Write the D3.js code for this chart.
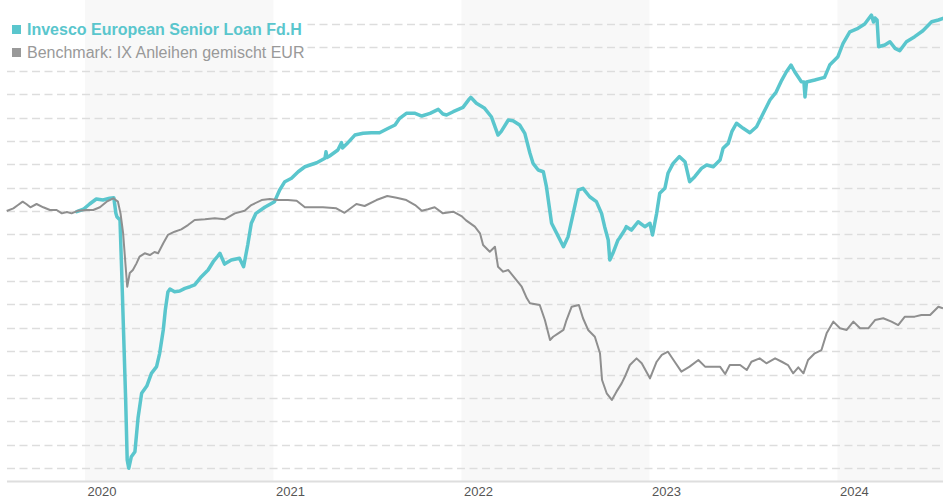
<!DOCTYPE html>
<html>
<head>
<meta charset="utf-8">
<script src="https://cdn.jsdelivr.net/npm/d3@7"></script>
<style>
  body { margin: 0; background: #fff; }
  svg { display: block; font-family: "Liberation Sans", Arial, sans-serif; }
</style>
</head>
<body>
<svg id="chart"></svg>
<script>
//Series names
const fundName = "Invesco European Senior Loan Fd.H";
const benchName = "Benchmark: IX Anleihen gemischt EUR";

//Fund (indexed, start = 100)
const fundDates = [
  "2019-12-16","2019-12-29","2020-01-10","2020-01-23","2020-02-05","2020-02-18","2020-02-26","2020-03-01","2020-03-03","2020-03-09",
  "2020-03-12","2020-03-16","2020-03-20","2020-03-23","2020-03-26","2020-03-31","2020-04-07","2020-04-13","2020-04-20","2020-04-30",
  "2020-05-09","2020-05-19","2020-05-25","2020-06-01","2020-06-05","2020-06-10","2020-06-14","2020-06-23","2020-07-03","2020-07-13",
  "2020-07-23","2020-08-01","2020-08-14","2020-08-27","2020-09-06","2020-09-15","2020-09-19","2020-09-28","2020-10-11","2020-10-27",
  "2020-11-04","2020-11-12","2020-11-19","2020-11-28","2020-12-15","2021-01-03","2021-01-13","2021-01-23","2021-02-05","2021-02-18",
  "2021-03-03","2021-03-13","2021-03-26","2021-04-11","2021-04-13","2021-04-15","2021-04-20","2021-05-06","2021-05-13","2021-05-15",
  "2021-05-23","2021-06-08","2021-06-24","2021-07-10","2021-07-26","2021-08-12","2021-08-25","2021-09-03","2021-09-16","2021-10-03",
  "2021-10-16","2021-11-01","2021-11-17","2021-11-26","2021-12-03","2021-12-16","2022-01-04","2022-01-16","2022-01-19","2022-01-30",
  "2022-02-15","2022-02-28","2022-03-13","2022-03-19","2022-04-02","2022-04-11","2022-04-24","2022-05-04","2022-05-14","2022-05-20",
  "2022-05-30","2022-06-09","2022-06-15","2022-06-25","2022-07-05","2022-07-18","2022-07-27","2022-08-06","2022-08-16","2022-08-25",
  "2022-09-07","2022-09-20","2022-09-30","2022-10-06","2022-10-13","2022-10-16","2022-10-22","2022-11-01","2022-11-04","2022-11-14",
  "2022-11-17","2022-11-27","2022-12-10","2022-12-23","2023-01-02","2023-01-07","2023-01-15","2023-01-21","2023-01-31","2023-02-06",
  "2023-02-16","2023-02-28","2023-03-11","2023-03-20","2023-03-30","2023-04-12","2023-04-22","2023-05-05","2023-05-18","2023-05-24",
  "2023-06-03","2023-06-10","2023-06-19","2023-07-02","2023-07-15","2023-07-28","2023-08-10","2023-08-23","2023-09-04","2023-09-15",
  "2023-09-24","2023-10-03","2023-10-10","2023-10-23","2023-10-28","2023-10-30","2023-11-02","2023-11-18","2023-12-07","2023-12-17",
  "2024-01-02","2024-01-12","2024-01-25","2024-02-10","2024-02-23","2024-03-07","2024-03-11","2024-03-14","2024-03-18","2024-03-21",
  "2024-04-02","2024-04-12","2024-04-22","2024-05-01","2024-05-14","2024-05-30","2024-06-15","2024-07-02","2024-07-15","2024-07-24"
];
const fundValues = [
  99.94,100.15,100.60,101.03,100.94,101.09,101.14,99.80,99.51,99.23,
  95.23,89.53,83.83,78.69,77.98,78.97,79.40,82.28,84.40,85.02,
  86.11,86.68,87.82,89.82,91.53,93.07,93.32,93.09,93.15,93.38,
  93.52,93.67,94.38,94.95,95.66,96.15,96.38,95.46,95.81,95.95,
  95.23,97.09,98.95,99.80,100.32,100.80,101.80,102.51,102.80,103.36,
  103.79,103.94,104.13,104.51,105.07,104.58,104.71,105.22,105.85,105.39,
  105.73,106.50,106.65,106.70,106.70,107.08,107.36,107.93,108.36,108.36,
  108.13,108.36,108.70,108.30,108.22,108.50,108.87,109.58,109.73,109.22,
  108.79,108.07,106.50,106.79,107.79,107.73,107.36,106.65,104.94,104.08,
  103.51,103.36,102.08,98.95,98.09,96.94,97.80,99.80,101.80,101.94,
  101.22,100.80,99.80,98.66,97.52,95.81,96.38,97.52,97.69,98.37,
  98.66,98.37,99.08,98.66,98.95,97.95,99.80,101.51,101.94,103.23,
  104.08,104.65,104.22,102.51,102.94,103.65,103.94,103.79,104.36,105.37,
  105.79,106.79,107.51,107.08,106.70,107.21,108.36,109.50,110.18,111.21,
  111.92,112.49,111.92,111.07,111.04,109.76,111.04,111.21,111.44,112.49,
  113.21,114.35,115.34,115.64,116.00,116.77,116.17,116.52,116.35,114.06,
  114.21,114.49,113.92,113.72,114.49,114.92,115.43,116.20,116.35,116.49
];

//Benchmark (indexed, start = 100)
const benchDates = [
  "2019-08-02","2019-08-15","2019-08-24","2019-09-02","2019-09-09","2019-09-17","2019-09-29","2019-10-12","2019-10-25","2019-11-07",
  "2019-11-17","2019-11-27","2019-12-06","2019-12-19","2020-01-04","2020-01-17","2020-01-30","2020-02-12","2020-02-25","2020-03-05",
  "2020-03-10","2020-03-15","2020-03-20","2020-03-23","2020-03-28","2020-04-03","2020-04-10","2020-04-16","2020-04-26","2020-05-06",
  "2020-05-15","2020-05-22","2020-06-01","2020-06-10","2020-06-23","2020-07-06","2020-07-19","2020-08-01","2020-08-21","2020-09-09",
  "2020-09-28","2020-10-18","2020-11-06","2020-11-19","2020-12-09","2020-12-25","2021-01-10","2021-01-29","2021-02-15","2021-03-03",
  "2021-03-22","2021-04-07","2021-05-03","2021-05-19","2021-06-11","2021-06-27","2021-07-20","2021-08-10","2021-08-28","2021-09-16",
  "2021-10-03","2021-10-16","2021-10-28","2021-11-10","2021-11-26","2021-12-16","2022-01-01","2022-01-10","2022-01-27","2022-02-06",
  "2022-02-12","2022-02-25","2022-03-07","2022-03-13","2022-03-23","2022-04-02","2022-04-15","2022-04-28","2022-05-08","2022-05-14",
  "2022-06-02","2022-06-12","2022-06-22","2022-06-28","2022-07-08","2022-07-18","2022-07-24","2022-08-03","2022-08-17","2022-08-25",
  "2022-09-04","2022-09-17","2022-09-27","2022-10-01","2022-10-10","2022-10-20","2022-10-29","2022-11-08","2022-11-14","2022-11-24",
  "2022-12-07","2022-12-17","2023-01-02","2023-01-15","2023-01-25","2023-02-06","2023-02-19","2023-03-04","2023-03-20","2023-04-06",
  "2023-04-19","2023-05-05","2023-05-18","2023-05-28","2023-06-06","2023-06-26","2023-07-09","2023-07-18","2023-08-03","2023-08-16",
  "2023-09-02","2023-09-15","2023-09-27","2023-10-07","2023-10-17","2023-10-27","2023-11-05","2023-11-18","2023-12-01","2023-12-11",
  "2023-12-24","2024-01-06","2024-01-19","2024-02-01","2024-02-14","2024-03-01","2024-03-14","2024-03-30","2024-04-15","2024-04-28",
  "2024-05-11","2024-05-30","2024-06-12","2024-06-29","2024-07-15","2024-07-24"
];
const benchValues = [
  100.00,100.23,100.51,100.80,100.60,100.32,100.60,100.32,100.09,100.09,
  99.80,99.91,99.80,100.03,100.09,100.09,100.32,100.80,101.09,100.80,
  99.80,98.12,95.23,93.52,94.69,94.95,95.52,96.09,96.38,96.23,
  96.49,96.38,97.24,97.95,98.23,98.43,98.80,99.23,99.29,99.38,
  99.29,99.80,100.03,100.51,100.94,101.03,100.94,100.94,100.88,100.32,
  100.32,100.32,100.23,99.85,100.60,100.43,100.94,101.28,101.14,100.94,
  100.51,100.03,100.15,100.32,99.80,99.94,99.57,99.20,98.66,98.09,
  97.09,96.52,96.94,95.23,94.81,94.95,94.24,93.52,92.53,92.10,
  91.96,90.67,88.96,89.24,89.53,89.82,90.67,91.81,91.96,90.82,
  89.82,89.24,87.82,85.54,84.40,83.83,84.54,85.25,85.79,86.82,
  87.39,86.97,85.68,87.10,87.68,87.96,87.10,86.25,86.68,87.25,
  86.68,86.68,86.68,86.05,86.82,86.82,86.39,87.10,87.39,86.97,
  87.39,87.10,86.82,86.11,86.62,86.11,87.25,87.82,88.10,89.53,
  90.53,89.96,89.82,90.53,89.96,89.96,90.67,90.82,90.53,90.24,
  90.96,90.96,91.10,91.10,91.81,91.67
];

//Axis settings
const yearTicks = ["2020", "2021", "2022", "2023", "2024"];
const gridValues = d3.range(78, 117, 2);
const xStart = "2019-07-20";
const xEnd = "2024-07-24";

const width = 943;
const height = 500;
const axisY = 481.5;
const left = 7;
const fundColor = "#5ac6cd";
const benchColor = "#999999";

const svg = d3.select("#chart").attr("width", width).attr("height", height);
const parse = d3.timeParse("%Y-%m-%d");

const xScale = d3.scaleTime().domain([parse(xStart), parse(xEnd)]).range([0, width]);
const yScale = d3.scaleLinear().domain([76.85, 118.06]).range([axisY, 0]);

//Alternating year bands
const yearStarts = yearTicks.map(y => parse(y + "-01-01"));
yearStarts.forEach((d, i) => {
  if (i % 2 === 0) {
    const next = i + 1 < yearStarts.length ? xScale(yearStarts[i + 1]) : width;
    svg.append("rect").attr("x", xScale(d)).attr("y", 0)
      .attr("width", next - xScale(d)).attr("height", axisY)
      .attr("fill", "#f8f8f8");
  }
});

//Dashed grid (hidden behind legend box, mask filled in later)
const mask = svg.append("mask").attr("id", "gridMask");
mask.append("rect").attr("width", width).attr("height", height).attr("fill", "white");
const grid = svg.append("g").attr("mask", "url(#gridMask)");
grid.selectAll("line").data(gridValues).enter().append("line")
  .attr("x1", left).attr("x2", width)
  .attr("y1", d => Math.round(yScale(d)) + 0.5).attr("y2", d => Math.round(yScale(d)) + 0.5)
  .attr("stroke", "#dddddd").attr("stroke-width", 1.5).attr("stroke-dasharray", "8,4.5");

//X axis line and year labels
svg.append("line").attr("x1", left).attr("x2", width).attr("y1", axisY).attr("y2", axisY)
  .attr("stroke", "#dedede").attr("stroke-width", 2);
const xAxis = d3.axisBottom(xScale).tickValues(yearStarts).tickFormat(d3.timeFormat("%Y")).tickSize(0).tickPadding(0);
const axisG = svg.append("g").attr("transform", `translate(0, ${axisY})`).call(xAxis);
axisG.select(".domain").remove();
axisG.selectAll("text").attr("text-anchor", "start").attr("dx", 2).attr("dy", 14)
  .attr("fill", "#555").style("font-size", "13px").style("font-family", "\"Liberation Sans\", Arial, sans-serif");

//Lines
const toPoints = (dates, values) => dates.map((d, i) => ({ date: parse(d), value: values[i] }));
const line = d3.line().x(d => xScale(d.date)).y(d => yScale(d.value));

svg.append("path").datum(toPoints(fundDates, fundValues)).attr("d", line)
  .attr("fill", "none").attr("stroke", fundColor).attr("stroke-width", 3.5)
  .attr("stroke-linejoin", "round").attr("stroke-linecap", "round");
svg.append("path").datum(toPoints(benchDates, benchValues)).attr("d", line)
  .attr("fill", "none").attr("stroke", "#8f8f8f").attr("stroke-width", 2)
  .attr("stroke-linejoin", "round");

//Legend
const legend = svg.append("g").attr("id", "legend");
const items = [
  { name: fundName, color: fundColor, weight: "bold" },
  { name: benchName, color: benchColor, weight: "normal" }
];
items.forEach((it, i) => {
  legend.append("rect").attr("x", 12).attr("y", 25 + i * 23).attr("width", 9).attr("height", 9).attr("fill", it.color);
  legend.append("text").text(it.name).attr("x", 27).attr("y", 35 + i * 23)
    .attr("fill", it.color).style("font-size", "16px").style("font-weight", it.weight);
});

//Cut grid where the legend sits
const box = legend.node().getBBox();
mask.append("rect").attr("x", 0).attr("y", box.y - 4)
  .attr("width", box.x + box.width + 3).attr("height", box.height + 6).attr("fill", "black");
</script>
</body>
</html>
